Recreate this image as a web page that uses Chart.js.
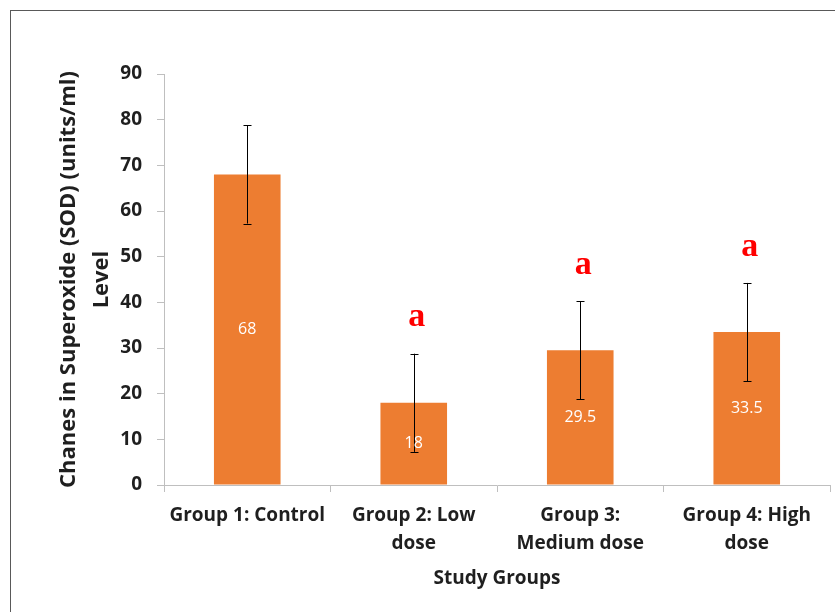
<!DOCTYPE html>
<html>
<head>
<meta charset="utf-8">
<script src="https://cdn.jsdelivr.net/npm/chart.js@4.4.1/dist/chart.umd.min.js"></script>
<style>
  html, body { margin: 0; padding: 0; background: #fff; overflow: hidden; }
  #wrap { position: relative; width: 835px; height: 612px; }
  #frame { position: absolute; left: 10px; top: 10px; width: 900px; height: 700px; border: 1px solid #595959; box-sizing: border-box; pointer-events: none; }
  canvas { position: absolute; left: 0; top: 0; }
</style>
</head>
<body>
<div id="wrap">
  <canvas id="sodChart" width="835" height="612"></canvas>
  <div id="frame"></div>
</div>
<script>
// Chart data
const groupLabels = [
    ['Group 1: Control'],
    ['Group 2: Low', 'dose'],
    ['Group 3:', 'Medium dose'],
    ['Group 4: High', 'dose']
];
const sodLevels = [68, 18, 29.5, 33.5];
const sodErrors = [10.75, 10.75, 10.75, 10.75];
const sigLetters = ['', 'a', 'a', 'a'];
const yTickValues = [0, 10, 20, 30, 40, 50, 60, 70, 80, 90];

const axisGrey = '#bfbfbf';
const textDark = '#1f1f1f';

// Error bars, value labels and significance letters
const barExtras = {
    id: 'barExtras',
    afterDatasetsDraw(chart) {
        const ctx = chart.ctx;
        const yScale = chart.scales.y;
        const meta = chart.getDatasetMeta(0);
        ctx.save();

        // error bars
        ctx.strokeStyle = '#000';
        ctx.lineWidth = 1;
        meta.data.forEach((bar, i) => {
            const top = yScale.getPixelForValue(sodLevels[i] + sodErrors[i]);
            const bottom = yScale.getPixelForValue(sodLevels[i] - sodErrors[i]);
            const x = Math.round(bar.x) + 0.5;
            ctx.beginPath();
            ctx.moveTo(x, top);
            ctx.lineTo(x, bottom);
            ctx.moveTo(x - 4, Math.round(top) + 0.5);
            ctx.lineTo(x + 4, Math.round(top) + 0.5);
            ctx.moveTo(x - 4, Math.round(bottom) + 0.5);
            ctx.lineTo(x + 4, Math.round(bottom) + 0.5);
            ctx.stroke();
        });

        // value labels in the middle of each bar
        ctx.fillStyle = '#ffffff';
        ctx.font = '16px "Open Sans"';
        ctx.textAlign = 'center';
        ctx.textBaseline = 'middle';
        meta.data.forEach((bar, i) => {
            ctx.fillText(String(sodLevels[i]), bar.x, (bar.y + bar.base) / 2);
        });

        // significance letters above the error bars
        ctx.fillStyle = '#ff0000';
        ctx.font = 'bold 34px "Liberation Serif"';
        meta.data.forEach((bar, i) => {
            if (!sigLetters[i]) return;
            const top = yScale.getPixelForValue(sodLevels[i] + sodErrors[i]);
            ctx.fillText(sigLetters[i], bar.x + 3, top - 36);
        });

        ctx.restore();
    }
};

const ctx = document.getElementById('sodChart').getContext('2d');
const sodChart = new Chart(ctx, {
    type: 'bar',
    data: {
        labels: groupLabels,
        datasets: [{
            data: sodLevels,
            backgroundColor: '#ed7d31',
            borderWidth: 0,
            categoryPercentage: 1.0,
            barPercentage: 0.4
        }]
    },
    options: {
        responsive: false,
        animation: false,
        events: [],
        layout: {
            padding: { left: 52, top: 74, right: 5, bottom: 19 }
        },
        plugins: {
            legend: { display: false },
            tooltip: { enabled: false }
        },
        scales: {
            x: {
                grid: {
                    display: true,
                    drawOnChartArea: false,
                    color: axisGrey,
                    tickLength: 7
                },
                border: { color: axisGrey, width: 1 },
                ticks: {
                    color: textDark,
                    font: { family: 'Open Sans', size: 19, weight: 'bold', lineHeight: 1.5 },
                    padding: 9,
                    maxRotation: 0,
                    autoSkip: false
                },
                title: {
                    display: true,
                    text: 'Study Groups',
                    color: textDark,
                    font: { family: 'Open Sans', size: 19, weight: 'bold', lineHeight: 1.5 },
                    padding: { top: 0, bottom: 0 }
                },
                afterFit(scale) {
                    scale.height = 108;
                }
            },
            y: {
                min: 0,
                max: 90,
                afterBuildTicks(scale) {
                    scale.ticks = yTickValues.map(v => ({ value: v }));
                },
                grid: {
                    display: true,
                    drawOnChartArea: false,
                    color: axisGrey,
                    tickLength: 7
                },
                border: { color: axisGrey, width: 1 },
                ticks: {
                    color: textDark,
                    font: { family: 'Open Sans', size: 19, weight: 'bold' },
                    padding: 15
                },
                title: {
                    display: true,
                    text: ['Chanes in Superoxide (SOD) (units/ml)', 'Level'],
                    color: textDark,
                    font: { family: 'Open Sans', size: 22, weight: 'bold', lineHeight: 1.5 },
                    padding: { top: 0, bottom: 0 }
                },
                afterFit(scale) {
                    scale.width = 112;
                }
            }
        }
    },
    plugins: [barExtras]
});
</script>
</body>
</html>
